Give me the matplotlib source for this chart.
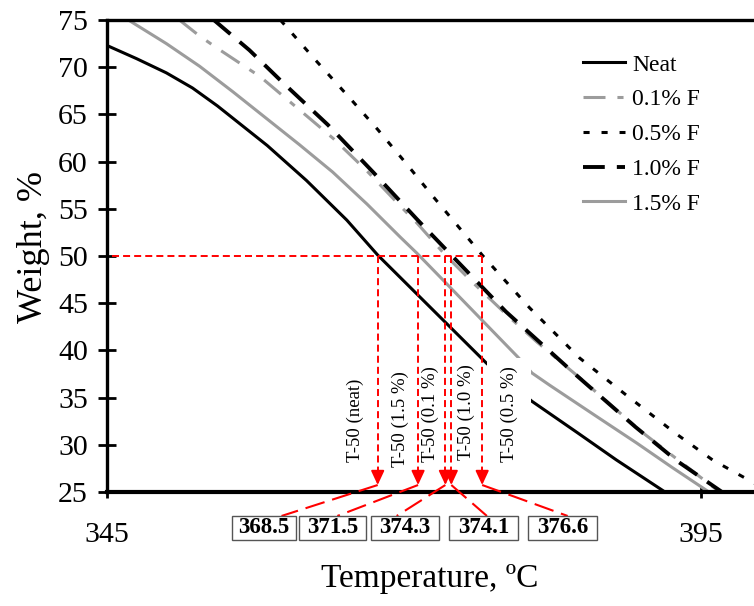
import matplotlib
matplotlib.use("Agg")
import matplotlib.pyplot as plt
from matplotlib.patches import Rectangle

plt.rcParams['font.family'] = ['Liberation Serif', 'DejaVu Serif']

# TGA curves (temperature in C, weight in %)
neat_t = [345.0, 347.5, 350.0, 352.2, 354.3, 358.5, 361.8, 365.2, 367.8, 372.2, 377.0, 380.8, 384.6, 387.9, 392.0]
neat_w = [72.3, 70.9, 69.4, 67.8, 65.9, 61.7, 58.0, 53.8, 50.1, 44.6, 38.6, 34.6, 31.3, 28.4, 25.0]

f01_t = [351.1, 352.8, 354.3, 357.9, 362.7, 364.1, 366.9, 369.7, 371.1, 373.5, 375.8, 378.9, 381.2, 385.0, 390.0, 396.6]
f01_w = [75.0, 73.3, 72.0, 69.0, 63.9, 62.4, 59.0, 55.3, 53.5, 50.1, 47.2, 43.5, 40.9, 36.9, 31.4, 25.0]

f05_t = [359.6, 362.6, 365.4, 367.8, 370.2, 372.4, 376.6, 380.6, 384.8, 388.7, 392.9, 396.0, 400.0]
f05_w = [75.0, 70.7, 66.8, 63.4, 59.8, 56.4, 50.1, 44.5, 39.2, 35.3, 31.2, 28.4, 25.6]

f10_t = [354.0, 357.0, 359.7, 363.6, 367.4, 371.1, 374.0, 378.6, 384.5, 389.5, 393.0, 396.8]
f10_w = [75.0, 71.8, 68.5, 63.9, 58.9, 53.9, 50.1, 44.1, 37.4, 31.9, 28.3, 25.0]

f15_t = [346.8, 350.0, 352.8, 355.6, 358.4, 361.2, 364.0, 366.9, 369.7, 371.1, 373.5, 379.6, 380.8, 382.3, 386.0, 389.6, 392.6, 395.7]
f15_w = [75.0, 72.5, 70.1, 67.4, 64.6, 61.8, 58.9, 55.5, 52.0, 50.3, 47.2, 39.3, 37.6, 36.3, 33.2, 30.2, 27.6, 25.0]

# T-50 markers: where the curves cross 50 % and the values printed in the boxes
t50_level = 50.0
t50_pos = [367.8, 371.2, 373.5, 374.0, 376.6]
t50_text = ['368.5', '371.5', '374.3', '374.1', '376.6']
t50_names = ['T-50 (neat)', 'T-50 (1.5 %)', 'T-50 (0.1 %)', 'T-50 (1.0 %)', 'T-50 (0.5 %)']

gray = '#9c9c9c'
red = '#ff0000'

fig = plt.figure(figsize=(7.54, 6.06), dpi=100)
ax = fig.add_axes([107/754, 1 - 492/606, 653/754, 472/606])

ax.plot(neat_t, neat_w, color='black', lw=2.2, label='Neat', zorder=2)
ax.plot(f01_t, f01_w, color=gray, lw=2.2, dashes=(7.2, 3.9, 2.0, 3.9), label='0.1% F', zorder=2)
ax.plot(f05_t, f05_w, color='black', lw=2.2, dashes=(2.0, 3.9), label='0.5% F', zorder=2)
ax.plot(f10_t, f10_w, color='black', lw=2.8, dashes=(5.6, 3.1), label='1.0% F', zorder=2)
ax.plot(f15_t, f15_w, color=gray, lw=2.2, label='1.5% F', zorder=2)

ax.set_xlim(345, 400)
ax.set_ylim(25, 75)
ax.set_xticks([345, 395])
ax.set_yticks(range(25, 80, 5))
ax.tick_params(axis='y', direction='inout', length=13.5, width=2, labelsize=21.5, pad=7)
ax.tick_params(axis='x', direction='inout', length=9, width=2, labelsize=21.5, pad=17)
for s in ['left', 'top']:
    ax.spines[s].set_linewidth(2.4)
ax.spines['bottom'].set_linewidth(3)
ax.spines['right'].set_visible(False)

# red guides for the T-50 readings
tip = 25.74
ax.plot([345.4, max(t50_pos)], [t50_level, t50_level], color=red, lw=1.4, dashes=(3.6, 2.1), zorder=4)
for t in t50_pos:
    ax.plot([t, t], [t50_level, tip + 1], color=red, lw=1.4, dashes=(3.6, 2.1), zorder=4)
    ax.annotate('', xy=(t, tip), xytext=(t, tip + 1.4),
                arrowprops=dict(arrowstyle='-|>,head_length=0.43,head_width=0.2',
                                color=red, lw=1.4, mutation_scale=20, shrinkA=0, shrinkB=0),
                zorder=4, annotation_clip=False)

# white patch behind the last vertical label
ax.add_patch(Rectangle((377.0, 27.0), 3.7, 12.2, fc='white', ec='none', zorder=3))

name_x = [365.9, 369.7, 372.2, 375.3, 378.9]
name_y = [28.18, 27.65, 28.18, 28.35, 28.18]
for x, y, s in zip(name_x, name_y, t50_names):
    ax.text(x, y, s, rotation=90, ha='center', va='bottom', fontsize=13.5, zorder=5)

# value boxes under the axis
box_l = [355.52, 361.16, 367.22, 373.79, 380.44]
box_r = [360.91, 366.80, 372.95, 379.60, 386.25]
box_top, box_bot = 22.46, 19.96
link_x = [359.7, 364.4, 369.4, 377.0, 383.8]
for t, l, r, lx, s in zip(t50_pos, box_l, box_r, link_x, t50_text):
    ax.plot([t, lx], [tip, box_top], color=red, lw=1.5, dashes=(9.6, 3.8), clip_on=False, zorder=4)
    ax.add_patch(Rectangle((l, box_bot), r - l, box_top - box_bot, fc='white', ec='#555555',
                           lw=1, clip_on=False, zorder=5))
    ax.text((l + r) / 2, (box_top + box_bot) / 2, s, ha='center', va='center',
            fontsize=16.5, fontweight='bold', zorder=6)

leg = ax.legend(loc='upper left', bbox_to_anchor=(583/754, 1 - 54/606), bbox_transform=fig.transFigure,
                frameon=False, fontsize=17, handlelength=1.78, handletextpad=0.3, labelspacing=0.56,
                borderpad=0, borderaxespad=0)

fig.text(430/754, 1 - 587/606, 'Temperature, ºC', ha='center', va='baseline', fontsize=24)
fig.text(42/754, 1 - 247/606, 'Weight, %', ha='center', va='baseline', rotation=90,
         rotation_mode='anchor', fontsize=26)

fig.savefig('out.png', dpi=100)
